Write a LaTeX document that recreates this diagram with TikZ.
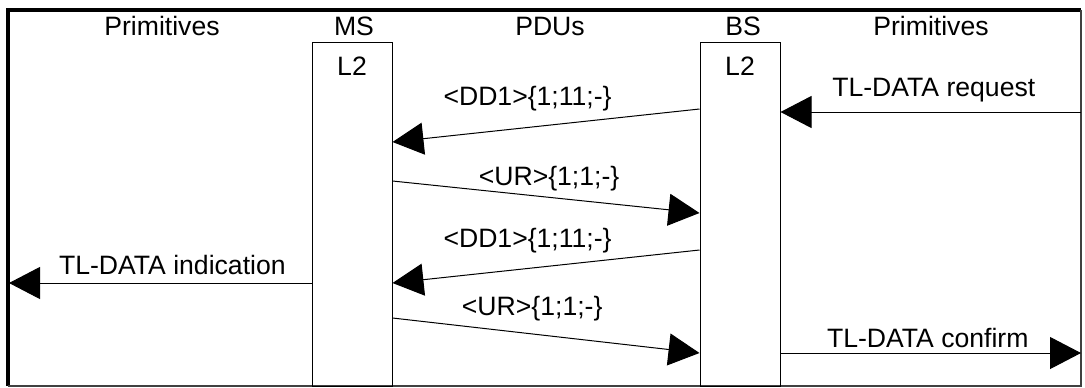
\documentclass[tikz,border=0pt]{standalone}
\usepackage{fontspec}
\setmainfont{Liberation Sans}
\usetikzlibrary{arrows.meta,positioning}

\begin{document}
\begin{tikzpicture}[
      x=0.5pt, y=-0.5pt,
      entity/.style={draw, line width=0.5pt, anchor=north, inner sep=0pt,
                     minimum width=40pt, minimum height=172pt},
      heading/.style={font=\fontsize{13.3}{15}\selectfont, anchor=base, inner sep=0pt},
      msg/.style={font=\fontsize{13.3}{15}\selectfont, inner sep=0pt},
      arrow/.style={-{Triangle[length=15.5pt, width=16pt]}, line width=0.5pt},
    ]
    \useasboundingbox (0,0) rectangle (1085,387);
    \draw[line width=2pt] (8,386) -- (8,10) -- (1081,10);
    \draw[line width=0.6pt, black!75] (1081,10) -- (1081,386) -- (8,386);

    \node[entity] (ms) at (352,42) {};
    \node[entity] (bs) at (740,42) {};

    \node[heading] (primleft) at (162,35) {Primitives};
    \node[heading] (mstitle) at (354,35) {MS};
    \node[heading] (pdus) at (550,35) {PDUs};
    \node[heading] (bstitle) at (743,35) {BS};
    \node[heading] (primright) at (931,35) {Primitives};
    \node[heading] (msl2) at (352,75) {L2};
    \node[heading] (bsl2) at (740,75) {L2};

    \coordinate (bsdd1) at ([yshift=-33.5pt]bs.north west);
    \coordinate (msdd1) at ([yshift=-50pt]ms.north east);
    \coordinate (msur1) at ([yshift=-69.5pt]ms.north east);
    \coordinate (bsur1) at ([yshift=-85.5pt]bs.north west);
    \coordinate (bsdd2) at ([yshift=-104pt]bs.north west);
    \coordinate (msdd2) at ([yshift=-120.5pt]ms.north east);
    \coordinate (msur2) at ([yshift=-138pt]ms.north east);
    \coordinate (bsur2) at ([yshift=-155.5pt]bs.north west);
    \coordinate (bsreq) at ([yshift=-35pt]bs.north east);
    \coordinate (bscnf) at ([yshift=-155.5pt]bs.north east);
    \coordinate (msind) at ([yshift=-120.5pt]ms.north west);
    \coordinate (usrreq) at (1081,112);
    \coordinate (usrcnf) at (1081,353);
    \coordinate (usrind) at (9,283);

    \draw[arrow] (bsdd1) -- node[msg, pos=0.56, above=8pt]{<DD1>\{1;11;-\}} (msdd1);
    \draw[arrow] (msur1) -- node[msg, pos=0.51, above=3pt]{<UR>\{1;1;-\}} (bsur1);
    \draw[arrow] (bsdd2) -- node[msg, pos=0.56, above=7.5pt]{<DD1>\{1;11;-\}} (msdd2);
    \draw[arrow] (msur2) -- node[msg, pos=0.455, above=6pt]{<UR>\{1;1;-\}} (bsur2);
    \draw[arrow] (usrreq) -- node[msg, pos=0.49, above=4.5pt]{TL-DATA request} (bsreq);
    \draw[arrow] (msind) -- node[msg, pos=0.46, above=4pt]{TL-DATA indication} (usrind);
    \draw[arrow] (bscnf) -- node[msg, pos=0.49, above=2.5pt]{TL-DATA confirm} (usrcnf);
\end{tikzpicture}
\end{document}
